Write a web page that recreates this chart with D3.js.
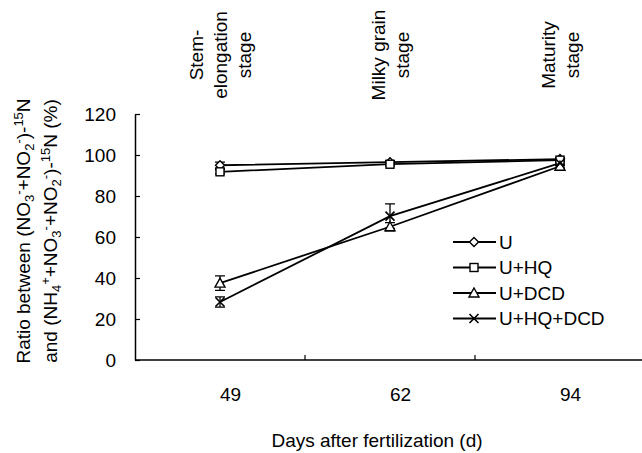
<!DOCTYPE html>
<html>
<head>
  <meta charset="UTF-8">
  <script src="https://cdn.jsdelivr.net/npm/d3@7"></script>
  <style>
    html, body { margin: 0; padding: 0; background: #fff; }
    svg { display: block; }
    text { font-family: "Liberation Sans", Arial, sans-serif; fill: #000; }
  </style>
</head>
<body>
  <div id="chart"></div>
  <script>
    var days = ["49", "62", "94"];
    var stages = [["Stem-", "elongation", "stage"], ["Milky grain", "stage"], ["Maturity", "stage"]];
    var yTicks = [0, 20, 40, 60, 80, 100, 120];
    var seriesNames = ["U", "U+HQ", "U+DCD", "U+HQ+DCD"];
    var seriesMarkers = ["diamond", "square", "triangle", "cross"];
    var valU = [95, 96.5, 98];
    var valUHQ = [91.8, 95.5, 97.5];
    var valUDCD = [37.5, 65, 94.5];
    var valUHQDCD = [28.3, 70.2, 96];
    var errU = [1.5, 0.8, 0.8];
    var errUHQ = [1, 0.8, 0.8];
    var errUDCD = [3.5, 2, 1];
    var errUHQDCD = [2.5, 6, 1.2];

    var width = 642, height = 453;
    var margin = { top: 114, right: -3, bottom: 93, left: 135 };
    var fs = "19px";

    var series = seriesNames.map(function(name, i) {
      var vals = [valU, valUHQ, valUDCD, valUHQDCD][i];
      var errs = [errU, errUHQ, errUDCD, errUHQDCD][i];
      return {
        name: name,
        marker: seriesMarkers[i],
        points: days.map(function(d, j) { return { day: d, v: vals[j], e: errs[j] }; })
      };
    });

    var svg = d3.select("#chart").append("svg")
      .attr("width", width)
      .attr("height", height);

    var x = d3.scalePoint().domain(days)
      .range([margin.left, width - margin.right]).padding(0.5);
    var y = d3.scaleLinear().domain([0, 120])
      .range([height - margin.bottom, margin.top]);

    // y axis, ticks pointing inward
    var yAxis = svg.append("g")
      .attr("transform", "translate(" + margin.left + ",0)")
      .call(d3.axisLeft(y).tickValues(yTicks).tickSize(-5).tickPadding(19).tickSizeOuter(0));
    yAxis.selectAll("text").style("font-size", fs).attr("font-family", null);
    yAxis.select(".domain").attr("stroke-width", 1.5);
    yAxis.selectAll(".tick line").attr("stroke-width", 1.2);

    // x axis: labels at categories, ticks at the category boundaries
    var xAxis = svg.append("g")
      .attr("transform", "translate(0," + y(0) + ")")
      .call(d3.axisBottom(x).tickSize(0).tickPadding(28).tickSizeOuter(0));
    xAxis.selectAll("text").style("font-size", fs).attr("font-family", null).attr("dx", 10);
    xAxis.select(".domain").attr("d", "M" + margin.left + ",0H" + (width + 5)).attr("stroke-width", 1.5);
    xAxis.selectAll(".bound")
      .data(days.slice(0, -1))
      .enter().append("line")
      .attr("x1", function(d) { return x(d) + x.step() / 2; })
      .attr("x2", function(d) { return x(d) + x.step() / 2; })
      .attr("y1", 0).attr("y2", -5)
      .attr("stroke", "#000").attr("stroke-width", 1.2);

    svg.append("text")
      .attr("x", 377).attr("y", 447)
      .attr("text-anchor", "middle")
      .style("font-size", fs)
      .text("Days after fertilization (d)");

    // y title with sub/superscripts
    function richText(sel, parts) {
      var shift = 0;
      parts.forEach(function(p) {
        var target = p[1] === "sub" ? 4 : p[1] === "sup" ? -7 : 0;
        sel.append("tspan")
          .attr("dy", target - shift)
          .style("font-size", p[1] ? "13px" : fs)
          .text(p[0]);
        shift = target;
      });
    }
    var yt1 = svg.append("text")
      .attr("transform", "translate(30,231) rotate(-90)")
      .attr("text-anchor", "middle");
    richText(yt1, [["Ratio between (NO"], ["3", "sub"], ["-", "sup"], ["+NO"], ["2", "sub"], ["-", "sup"],
      [")-"], ["15", "sup"], ["N"]]);
    var yt2 = svg.append("text")
      .attr("transform", "translate(57,231) rotate(-90)")
      .attr("text-anchor", "middle");
    richText(yt2, [["and (NH"], ["4", "sub"], ["+", "sup"], ["+NO"], ["3", "sub"], ["-", "sup"], ["+NO"],
      ["2", "sub"], ["-", "sup"], [")-"], ["15", "sup"], ["N (%)"]]);

    // stage labels above each category
    stages.forEach(function(lines, i) {
      lines.forEach(function(l, k) {
        var cx = x(days[i]) + (k - (lines.length - 1) / 2) * 24;
        svg.append("text")
          .attr("transform", "translate(" + cx + ",55) rotate(-90)")
          .attr("text-anchor", "middle")
          .attr("dy", "0.35em")
          .style("font-size", fs)
          .text(l);
      });
    });

    function drawMarker(g, type, cx, cy) {
      var s = 4.5;
      if (type === "diamond") {
        g.append("path").attr("d", "M" + cx + "," + (cy - s) + "L" + (cx + s) + "," + cy + "L" + cx + "," + (cy + s) + "L" + (cx - s) + "," + cy + "Z")
          .attr("fill", "#fff").attr("stroke", "#000").attr("stroke-width", 1.4);
      } else if (type === "square") {
        g.append("rect").attr("x", cx - 4).attr("y", cy - 4).attr("width", 8).attr("height", 8)
          .attr("fill", "#fff").attr("stroke", "#000").attr("stroke-width", 1.4);
      } else if (type === "triangle") {
        g.append("path").attr("d", "M" + cx + "," + (cy - 5) + "L" + (cx + 5) + "," + (cy + 4) + "L" + (cx - 5) + "," + (cy + 4) + "Z")
          .attr("fill", "#fff").attr("stroke", "#000").attr("stroke-width", 1.4);
      } else {
        g.append("path").attr("d", "M" + (cx - 4.5) + "," + (cy - 4.5) + "L" + (cx + 4.5) + "," + (cy + 4.5) + "M" + (cx + 4.5) + "," + (cy - 4.5) + "L" + (cx - 4.5) + "," + (cy + 4.5))
          .attr("stroke", "#000").attr("stroke-width", 1.6);
      }
    }

    var line = d3.line()
      .x(function(d) { return x(d.day); })
      .y(function(d) { return y(d.v); });

    var plot = svg.append("g");
    series.forEach(function(s) {
      var g = plot.append("g");
      s.points.forEach(function(p) {
        var cx = x(p.day);
        g.append("path")
          .attr("d", "M" + cx + "," + y(p.v + p.e) + "V" + y(p.v - p.e) +
            "M" + (cx - 5) + "," + y(p.v + p.e) + "H" + (cx + 5) +
            "M" + (cx - 5) + "," + y(p.v - p.e) + "H" + (cx + 5))
          .attr("stroke", "#000").attr("stroke-width", 1.3).attr("fill", "none");
      });
      g.append("path").datum(s.points)
        .attr("d", line)
        .attr("fill", "none").attr("stroke", "#000").attr("stroke-width", 1.8);
    });
    series.forEach(function(s) {
      s.points.forEach(function(p) { drawMarker(plot, s.marker, x(p.day), y(p.v)); });
    });

    // legend
    var legend = svg.append("g");
    series.forEach(function(s, i) {
      var ly = 242 + i * 25.5;
      legend.append("line").attr("x1", 453).attr("x2", 496).attr("y1", ly).attr("y2", ly)
        .attr("stroke", "#000").attr("stroke-width", 1.8);
      drawMarker(legend, s.marker, 474, ly);
      legend.append("text").attr("x", 499).attr("y", ly).attr("dy", "0.36em")
        .style("font-size", fs).text(s.name);
    });
  </script>
</body>
</html>
